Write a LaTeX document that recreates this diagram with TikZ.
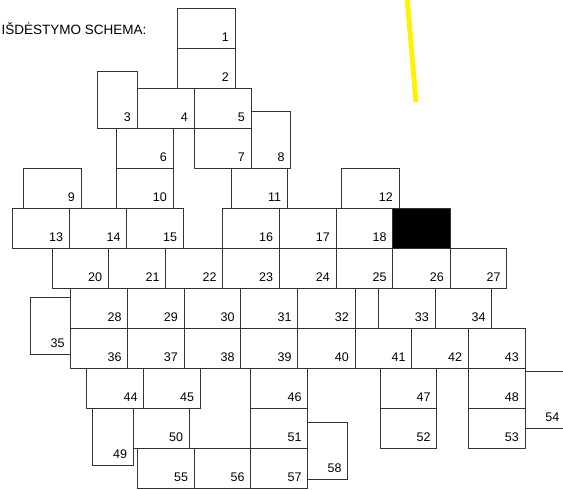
\documentclass[tikz,border=0pt]{standalone}
\usepackage{fontspec}
\setmainfont{Liberation Sans}
\begin{document}
\begin{tikzpicture}[x=1pt, y=-1pt,
  cell/.style={draw=black!80, line width=0.7pt, inner sep=0pt, outer sep=0pt, anchor=north west},
  num/.style={font=\fontsize{12.5}{13}\selectfont, inner sep=0pt, anchor=base east}]
  \useasboundingbox (0,0) rectangle (563,490);
  \node[font=\fontsize{13.5}{14}\selectfont, inner sep=0pt, anchor=base west] (title) at (1.5,34) {IŠDĖSTYMO SCHEMA:};
  \foreach \xa/\ya/\xb/\yb/\n in {177.7/8/235/48/1, 177.7/48/235/88/2, 97/71/137/128/3, 137/88/194/128/4,
    194/88/251/128/5, 116/128/173/168/6, 194/128/251/168/7, 251/111/290.7/168/8, 23/168/81/208/9,
    116/168/173/208/10, 231/168/287.3/208/11, 341.7/168/399/208/12, 12.3/208/69.3/248/13,
    69.3/208/126.7/248/14, 126.7/208/183.3/248/15, 222.7/208/279.3/248/16, 279.3/208/336/248/17,
    336/208/392.7/248/18, 52.3/248/108.3/288/20, 108.3/248/165.7/288/21, 165.7/248/222.7/288/22,
    222.7/248/279.3/288/23, 279.3/248/336/288/24, 336/248/392.7/288/25, 392.7/248/450/288/26,
    450/248/506.7/288/27, 70.7/288/127.7/328/28, 127.7/288/184/328/29, 184/288/240.7/328/30,
    240.7/288/297.7/328/31, 297.7/288/355/328/32, 378.3/288/435/328/33, 435/288/491.7/328/34,
    30.7/297.3/70.7/354/35, 70.7/328/127.7/368/36, 127.7/328/184/368/37, 184/328/240.7/368/38,
    240.7/328/297.7/368/39, 297.7/328/355/368/40, 355/328/411.7/368/41, 411.7/328/468.3/368/42,
    468.3/328/525/368/43, 86.7/368/143.7/408/44, 143.7/368/200.3/408/45, 250.7/368/307.7/408/46,
    380/368/436.7/408/47, 468.3/368/525/408/48, 92.7/408/133.3/465/49, 133.3/408/189.3/448/50,
    250.7/408/307.7/448/51, 380/408/436.7/448/52, 468.3/408/525/448/53, 137.3/448/194.3/488/55,
    194.3/448/250.7/488/56, 250.7/448/307.7/488/57, 307.7/422.3/347.7/479.3/58} {
    \node[cell, minimum width={(\xb-\xa)*1pt}, minimum height={(\yb-\ya)*1pt}] (c\n) at (\xa,\ya) {};
    \node[num] (n\n) at ([shift={(-6pt,6.5pt)}]c\n.south east) {\n};
  }
  \node[cell, fill=black, minimum width=57.3pt, minimum height=40pt] (c19) at (392.7,208) {};
  \node[cell, minimum width=23.3pt, minimum height=40pt] (gap) at (355,288) {};
  \node[cell, minimum width=45pt, minimum height=56.6pt] (c54) at (525,371.7) {};
  \node[num] (n54) at (559.5,421) {54};
  \coordinate (ray top) at (407.3,0);
  \coordinate (ray end) at (416,102);
  \draw[yellow, line width=5pt] (ray top) -- (ray end);
\end{tikzpicture}
\end{document}
